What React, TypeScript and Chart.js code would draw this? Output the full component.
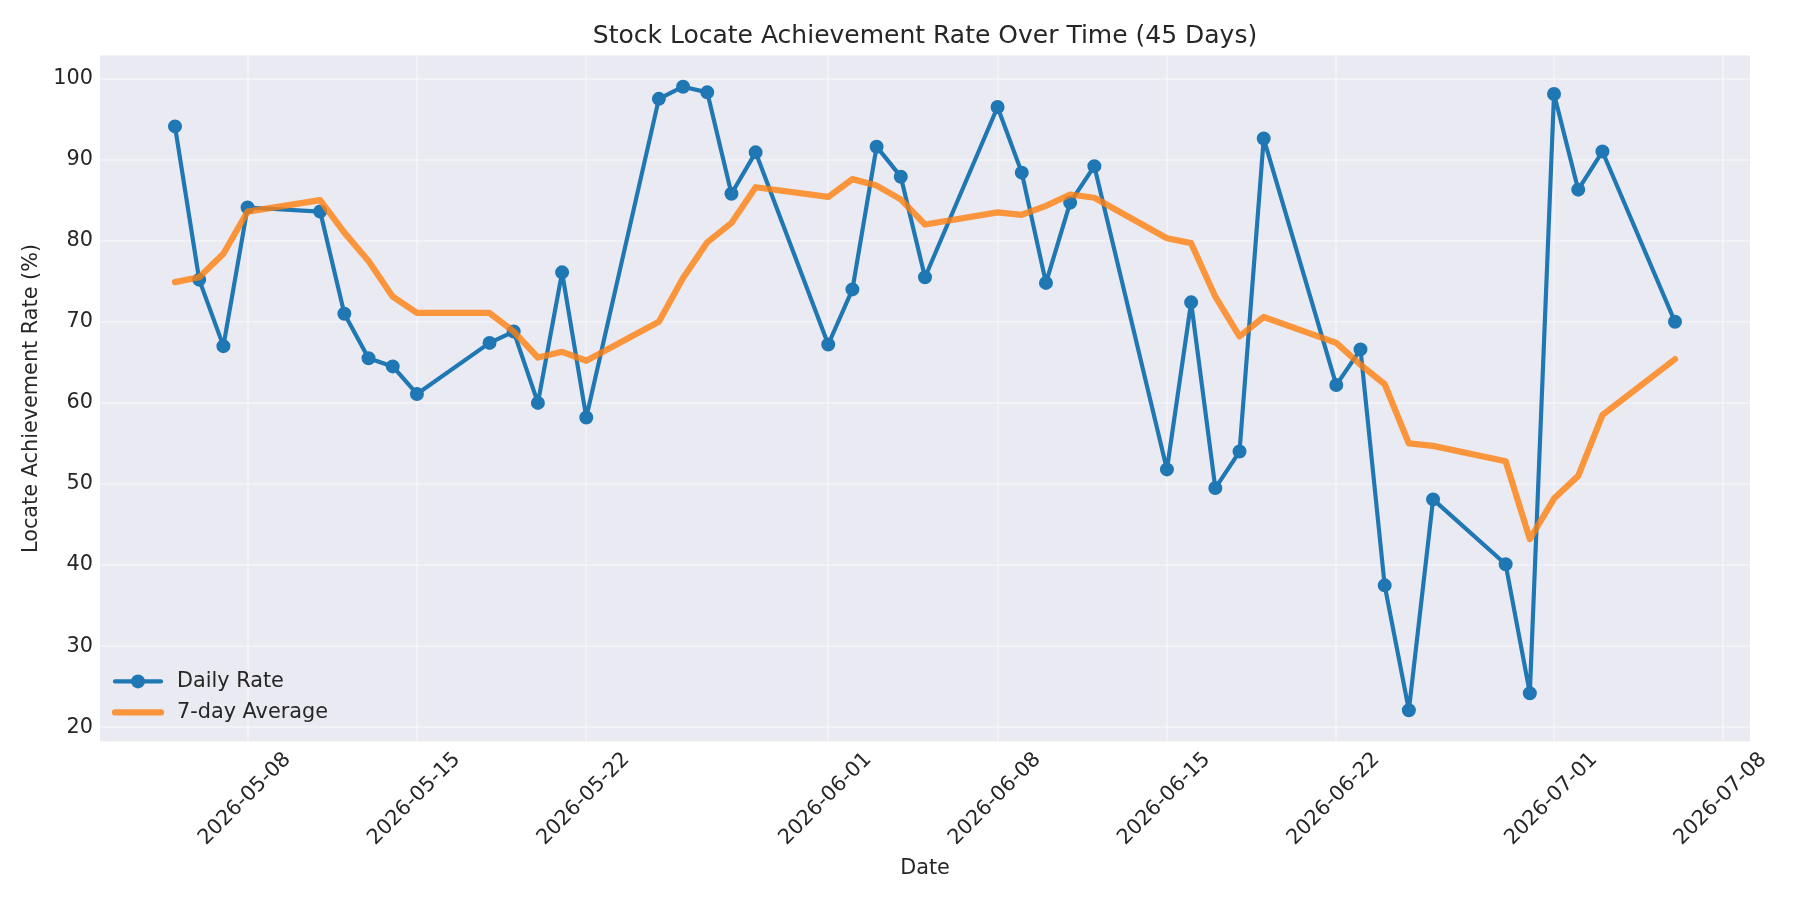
import React, { useEffect, useRef } from "react";
import { Chart, registerables } from "chart.js";

Chart.register(...registerables);

const dates: string[] = [
  "2026-05-05", "2026-05-06", "2026-05-07", "2026-05-08", "2026-05-11",
  "2026-05-12", "2026-05-13", "2026-05-14", "2026-05-15", "2026-05-18",
  "2026-05-19", "2026-05-20", "2026-05-21", "2026-05-22", "2026-05-25",
  "2026-05-26", "2026-05-27", "2026-05-28", "2026-05-29", "2026-06-01",
  "2026-06-02", "2026-06-03", "2026-06-04", "2026-06-05", "2026-06-08",
  "2026-06-09", "2026-06-10", "2026-06-11", "2026-06-12", "2026-06-15",
  "2026-06-16", "2026-06-17", "2026-06-18", "2026-06-19", "2026-06-22",
  "2026-06-23", "2026-06-24", "2026-06-25", "2026-06-26", "2026-06-29",
  "2026-06-30", "2026-07-01", "2026-07-02", "2026-07-03", "2026-07-06",
];

const dailyRate: number[] = [
  94.1, 75.2, 67.0, 84.1, 83.6, 71.0, 65.5, 64.5, 61.1, 67.4,
  68.8, 60.0, 76.1, 58.2, 97.5, 99.0, 98.3, 85.8, 90.9, 67.2,
  74.0, 91.6, 87.9, 75.5, 96.5, 88.4, 74.8, 84.7, 89.2, 51.8,
  72.4, 49.5, 54.0, 92.6, 62.2, 66.6, 37.5, 22.1, 48.1, 40.1,
  24.2, 98.1, 86.3, 91.0, 70.0,
];

const sevenDayAvg: number[] = [
  74.9, 75.5, 78.4, 83.6, 85.0, 81.0, 77.5, 73.1, 71.1, 71.1,
  68.8, 65.6, 66.3, 65.2, 70.0, 75.4, 79.8, 82.2, 86.6, 85.4,
  87.6, 86.8, 85.1, 82.0, 83.5, 83.2, 84.3, 85.7, 85.3, 80.3,
  79.7, 73.1, 68.2, 70.6, 67.4, 64.7, 62.3, 55.0, 54.7, 52.8,
  43.2, 48.2, 51.0, 58.5, 65.4,
];

const xTickLabels: string[] = [
  "2026-05-08", "2026-05-15", "2026-05-22", "2026-06-01", "2026-06-08",
  "2026-06-15", "2026-06-22", "2026-07-01", "2026-07-08",
];

const yTicks: number[] = [20, 30, 40, 50, 60, 70, 80, 90, 100];

const TITLE = "Stock Locate Achievement Rate Over Time (45 Days)";
const SERIES_NAMES = ["Daily Rate", "7-day Average"];

const toDay = (s: string): number => {
  const [y, m, d] = s.split("-").map(Number);
  return Date.UTC(y, m - 1, d) / 86400000;
};
const fromDay = (v: number): string => {
  const dt = new Date(Math.round(v) * 86400000);
  const mm = String(dt.getUTCMonth() + 1).padStart(2, "0");
  const dd = String(dt.getUTCDate()).padStart(2, "0");
  return `${dt.getUTCFullYear()}-${mm}-${dd}`;
};

const FONT = "'DejaVu Sans', 'Noto Sans', sans-serif";
const TEXT = "#262626";
const BLUE = "#1f77b4";
const ORANGE = "rgba(255,127,14,0.8)";

export default function App() {
  const ref = useRef<HTMLCanvasElement | null>(null);

  useEffect(() => {
    document.body.style.margin = "0";
    const canvas = ref.current;
    if (!canvas) return;

    const xs = dates.map(toDay);
    const xMinData = Math.min(...xs);
    const xMaxData = Math.max(...xs);
    const xPad = (xMaxData - xMinData) * 0.05;
    const allY = [...dailyRate, ...sevenDayAvg];
    const yMinData = Math.min(...dailyRate);
    const yMaxData = Math.max(...allY);
    const yPad = (yMaxData - yMinData) * 0.05;

    const bgPlugin = {
      id: "bg",
      beforeDraw(chart: any) {
        const { ctx, chartArea: a } = chart;
        ctx.save();
        ctx.fillStyle = "#ffffff";
        ctx.fillRect(0, 0, chart.width, chart.height);
        ctx.fillStyle = "#EAEAF2";
        ctx.fillRect(a.left, a.top, a.right - a.left, a.bottom - a.top);
        ctx.restore();
      },
      afterDraw(chart: any) {
        const { ctx, chartArea: a } = chart;
        ctx.save();
        // title
        ctx.fillStyle = TEXT;
        ctx.font = `25px ${FONT}`;
        ctx.textAlign = "center";
        ctx.textBaseline = "alphabetic";
        ctx.fillText(TITLE, (a.left + a.right) / 2, 43);

        // legend
        const lx0 = a.left + 15;
        const lx1 = a.left + 61;
        const tx = a.left + 77;
        const rows = [a.bottom - 60, a.bottom - 29];
        ctx.lineCap = "round";
        ctx.strokeStyle = BLUE;
        ctx.lineWidth = 4.17;
        ctx.beginPath();
        ctx.moveTo(lx0, rows[0]);
        ctx.lineTo(lx1, rows[0]);
        ctx.stroke();
        ctx.fillStyle = BLUE;
        ctx.beginPath();
        ctx.arc((lx0 + lx1) / 2, rows[0], 7, 0, Math.PI * 2);
        ctx.fill();
        ctx.strokeStyle = ORANGE;
        ctx.lineWidth = 6.25;
        ctx.beginPath();
        ctx.moveTo(lx0, rows[1]);
        ctx.lineTo(lx1, rows[1]);
        ctx.stroke();
        ctx.fillStyle = TEXT;
        ctx.font = `20.8px ${FONT}`;
        ctx.textAlign = "left";
        ctx.textBaseline = "middle";
        ctx.fillText(SERIES_NAMES[0], tx, rows[0]);
        ctx.fillText(SERIES_NAMES[1], tx, rows[1]);
        ctx.restore();
      },
    };

    const chart = new Chart(canvas, {
      type: "line",
      data: {
        datasets: [
          {
            label: SERIES_NAMES[0],
            data: xs.map((x, i) => ({ x, y: dailyRate[i] })),
            borderColor: BLUE,
            backgroundColor: BLUE,
            borderWidth: 4.17,
            pointRadius: 6.2,
            pointBorderWidth: 1.6,
            pointBackgroundColor: BLUE,
            pointBorderColor: BLUE,
            borderCapStyle: "round",
            borderJoinStyle: "round",
            tension: 0,
            order: 1,
          },
          {
            label: SERIES_NAMES[1],
            data: xs.map((x, i) => ({ x, y: sevenDayAvg[i] })),
            borderColor: ORANGE,
            backgroundColor: ORANGE,
            borderWidth: 6.25,
            pointRadius: 0,
            borderCapStyle: "round",
            borderJoinStyle: "round",
            tension: 0,
            order: 0,
          },
        ],
      },
      options: {
        animation: false,
        responsive: false,
        devicePixelRatio: 1,
        layout: { padding: { top: 55.5, right: 50, left: 0, bottom: 0 } },
        plugins: {
          legend: { display: false },
          title: { display: false },
          tooltip: { enabled: false },
        },
        scales: {
          x: {
            type: "linear",
            min: xMinData - xPad,
            max: xMaxData + xPad,
            afterBuildTicks: (scale: any) => {
              scale.ticks = xTickLabels.map((s) => ({ value: toDay(s) }));
            },
            afterFit: (scale: any) => {
              scale.height = 158.6;
            },
            grid: {
              color: "rgba(255,255,255,0.35)",
              lineWidth: 2,
              drawTicks: false,
            },
            border: { display: false },
            ticks: {
              autoSkip: false,
              minRotation: 45,
              maxRotation: 45,
              padding: 6,
              labelOffset: 40,
              color: TEXT,
              font: { family: FONT, size: 20.8 },
              callback: (v: any) => fromDay(Number(v)),
            },
            title: {
              display: true,
              text: "Date",
              color: TEXT,
              font: { family: FONT, size: 20.8 },
              padding: { top: 0, bottom: 18.5 },
            },
          },
          y: {
            type: "linear",
            min: yMinData - yPad,
            max: yMaxData + yPad,
            afterBuildTicks: (scale: any) => {
              scale.ticks = yTicks.map((v) => ({ value: v }));
            },
            afterFit: (scale: any) => {
              scale.width = 100;
            },
            grid: {
              color: "rgba(255,255,255,0.35)",
              lineWidth: 2,
              drawTicks: false,
            },
            border: { display: false },
            ticks: {
              padding: 7,
              color: TEXT,
              font: { family: FONT, size: 20.8 },
              callback: (v: any) => String(v),
            },
            title: {
              display: true,
              text: "Locate Achievement Rate (%)",
              color: TEXT,
              font: { family: FONT, size: 20.8 },
              padding: { top: 19.5, bottom: 0 },
            },
          },
        },
      },
      plugins: [bgPlugin],
    } as any);

    return () => chart.destroy();
  }, []);

  return (
    <div style={{ position: "absolute", left: 0, top: 0, width: 1800, height: 900 }}>
      <canvas ref={ref} width={1800} height={900} style={{ width: 1800, height: 900 }} />
    </div>
  );
}
